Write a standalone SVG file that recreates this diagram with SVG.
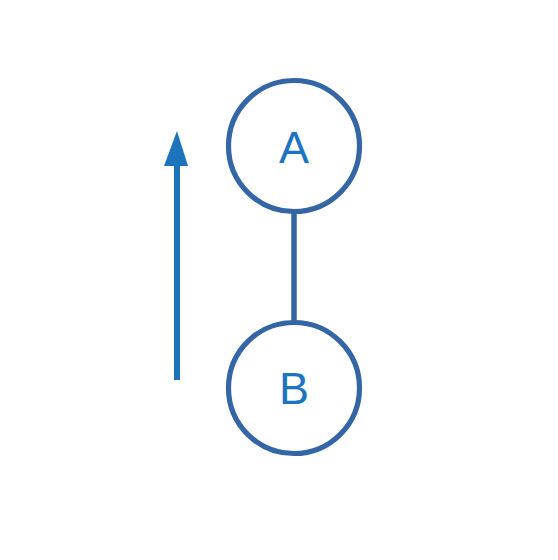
<svg xmlns="http://www.w3.org/2000/svg" width="558" height="560" viewBox="0 0 558 560">
<style>
.node{fill:#fff;stroke:#3465a4;stroke-width:5.2}
.lbl{font-family:"Liberation Sans",Arial,sans-serif;font-size:45px;fill:#1c73c0;text-anchor:middle}
.edge{stroke:#3465a4;stroke-width:5.5;fill:none}
</style>
<rect width="558" height="560" fill="#fff"/>
<g id="connectors">
<line class="edge" x1="294" y1="211" x2="294" y2="323"/>
</g>
<g id="arrow">
<line x1="177" y1="380" x2="177" y2="160" stroke="#1c74bc" stroke-width="6"/>
<polygon points="177,131 164,166 188,166" fill="#1c74bc"/>
</g>
<g id="node-A">
<circle class="node" cx="294" cy="146" r="65.5"/>
<text class="lbl" x="294" y="163">A</text>
</g>
<g id="node-B">
<circle class="node" cx="294" cy="388" r="65.5"/>
<text class="lbl" x="294" y="404">B</text>
</g>
</svg>
